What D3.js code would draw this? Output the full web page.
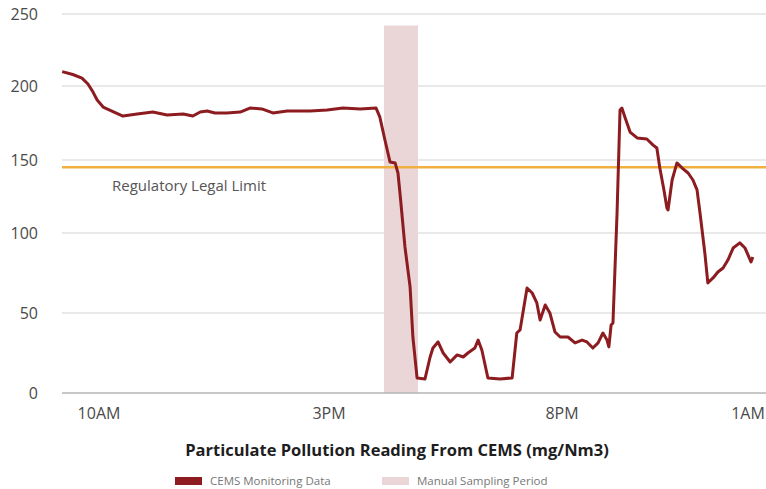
<!DOCTYPE html>
<html>
<head>
  <script src="https://d3js.org/d3.v7.min.js"></script>
  <style>
    body { margin: 0; background: #fff; }
    text { font-family: "Open Sans", sans-serif; }
  </style>
</head>
<body>
  <div id="chart"></div>
  <script>
    // hours of day (10 = 10AM, 25 = 1AM next day) and reading in mg/Nm3
    const hours = [9.20, 9.43, 9.63, 9.76, 9.87, 9.96, 10.09, 10.28, 10.52, 10.83,
      11.17, 11.48, 11.83, 12.04, 12.20, 12.35, 12.52, 12.78, 13.07, 13.28,
      13.54, 13.78, 14.09, 14.59, 14.96, 15.30, 15.67, 16.01, 16.09, 16.20,
      16.31, 16.42, 16.48, 16.53, 16.63, 16.74, 16.80, 16.89, 17.06, 17.17,
      17.23, 17.34, 17.45, 17.60, 17.75, 17.88, 17.98, 18.13, 18.20, 18.28,
      18.41, 18.67, 18.93, 19.03, 19.10, 19.25, 19.36, 19.46, 19.53, 19.64,
      19.74, 19.85, 19.96, 20.16, 20.35, 20.54, 20.67, 20.83, 20.97, 21.10,
      21.21, 21.26, 21.32, 21.37, 21.48, 21.56, 21.61, 21.69, 21.83, 22.02,
      22.28, 22.45, 22.55, 22.63, 22.74, 22.82, 22.85, 22.96, 23.09, 23.23,
      23.39, 23.52, 23.63, 23.71, 23.84, 23.92, 24.06, 24.19, 24.33, 24.46,
      24.60, 24.78, 24.92, 25.00, 25.08, 25.13];
    const readings = [210, 208, 205.5, 201.4, 195.9, 190.5, 185.8, 183.1, 179.7, 181.1,
      182.4, 180.4, 181.1, 179.7, 182.4, 183.1, 181.8, 181.8, 182.4, 185.1,
      184.5, 181.8, 183.1, 183.1, 183.8, 185.1, 184.5, 185.1, 179.1, 163.5,
      148.6, 147.9, 141.1, 125, 91.3, 66.3, 35, 9.4, 8.8, 22.5,
      28.1, 31.9, 25, 19.4, 23.8, 22.5, 25, 28.1, 33.1, 26.9,
      9.4, 8.8, 9.4, 37.5, 39.4, 65.6, 62.5, 56.3, 45.6, 55,
      50, 38.1, 35, 35, 31.3, 33.1, 31.9, 28.1, 31.3, 37.5,
      33.1, 28.8, 42.5, 43.8, 113.7, 183.8, 185.1, 179.1, 168.9, 164.9,
      164.2, 160.1, 158.1, 144.5, 129.5, 117.1, 115.8, 136.3, 148, 144.5,
      141.1, 136.3, 129.5, 113.7, 87.5, 68.8, 71.9, 75.6, 78.1, 83.1,
      90.6, 93.8, 90.6, 86.3, 81.9, 85];

    const xTickValues = [10, 15, 20, 25];
    const xTickLabels = ["10AM", "3PM", "8PM", "1AM"];
    const yTickValues = [0, 50, 100, 150, 200, 250];

    const legalLimit = 145;
    const samplingPeriod = [16.18, 16.91];
    const samplingTop = 242;

    const legendLabels = ["CEMS Monitoring Data", "Manual Sampling Period"];
    const legendColors = ["#8c1c1f", "#ead5d7"];

    const width = 766, height = 489;
    const left = 62, right = 766;

    const svg = d3.select("#chart")
      .append("svg")
        .attr("width", width)
        .attr("height", height);

    // the source picture is not evenly spaced, so both scales are piecewise
    const x = d3.scaleLinear()
      .domain(xTickValues)
      .range([99, 329, 562, 748]);

    const y = d3.scaleLinear()
      .domain(yTickValues)
      .range([393, 313, 233, 160, 86, 14]);

    // gridlines
    svg.append("g")
      .selectAll("line")
      .data(yTickValues.filter(d => d > 0))
      .join("line")
        .attr("x1", left)
        .attr("x2", right)
        .attr("y1", d => y(d))
        .attr("y2", d => y(d))
        .attr("stroke", "#e2e2e2")
        .attr("stroke-width", 1.5);

    // y labels
    svg.append("g")
      .selectAll("text")
      .data(yTickValues)
      .join("text")
        .attr("x", 38)
        .attr("y", d => y(d))
        .attr("dy", "0.35em")
        .attr("text-anchor", "end")
        .attr("fill", "#4a4a4a")
        .attr("font-size", 16)
        .text(d => d);

    // manual sampling band
    svg.append("rect")
      .attr("x", x(samplingPeriod[0]))
      .attr("width", x(samplingPeriod[1]) - x(samplingPeriod[0]))
      .attr("y", y(samplingTop))
      .attr("height", y(0) - y(samplingTop))
      .attr("fill", legendColors[1]);

    // baseline
    svg.append("line")
      .attr("x1", left)
      .attr("x2", right)
      .attr("y1", y(0))
      .attr("y2", y(0))
      .attr("stroke", "#b5b5b5")
      .attr("stroke-width", 1.5);

    // x labels
    svg.append("g")
      .selectAll("text")
      .data(xTickValues)
      .join("text")
        .attr("x", d => x(d))
        .attr("y", 413)
        .attr("dy", "0.35em")
        .attr("text-anchor", "middle")
        .attr("fill", "#4a4a4a")
        .attr("font-size", 16)
        .text((d, i) => xTickLabels[i]);

    // regulatory limit
    svg.append("line")
      .attr("x1", left)
      .attr("x2", right)
      .attr("y1", y(legalLimit))
      .attr("y2", y(legalLimit))
      .attr("stroke", "#f0b040")
      .attr("stroke-width", 2.5);

    svg.append("text")
      .attr("x", 112)
      .attr("y", y(legalLimit) + 18)
      .attr("dy", "0.35em")
      .attr("fill", "#555")
      .attr("font-size", 15)
      .text("Regulatory Legal Limit");

    // readings line
    const line = d3.line()
      .x(d => x(d[0]))
      .y(d => y(d[1]));

    svg.append("path")
      .datum(d3.zip(hours, readings))
      .attr("fill", "none")
      .attr("stroke", legendColors[0])
      .attr("stroke-width", 3)
      .attr("stroke-linejoin", "round")
      .attr("d", line);

    // title
    svg.append("text")
      .attr("x", 397)
      .attr("y", 450)
      .attr("dy", "0.35em")
      .attr("text-anchor", "middle")
      .attr("fill", "#1e1e1e")
      .attr("font-size", 16.5)
      .attr("font-weight", 700)
      .text("Particulate Pollution Reading From CEMS (mg/Nm3)");

    // legend
    const legend = svg.append("g")
      .selectAll("g")
      .data(legendLabels)
      .join("g")
        .attr("transform", (d, i) => `translate(${[175, 382][i]}, 481)`);

    legend.append("rect")
      .attr("y", -4)
      .attr("width", 27)
      .attr("height", 8)
      .attr("fill", (d, i) => legendColors[i]);

    legend.append("text")
      .attr("x", 35)
      .attr("dy", "0.35em")
      .attr("fill", "#777")
      .attr("font-size", 11.5)
      .text(d => d);
  </script>
</body>
</html>
